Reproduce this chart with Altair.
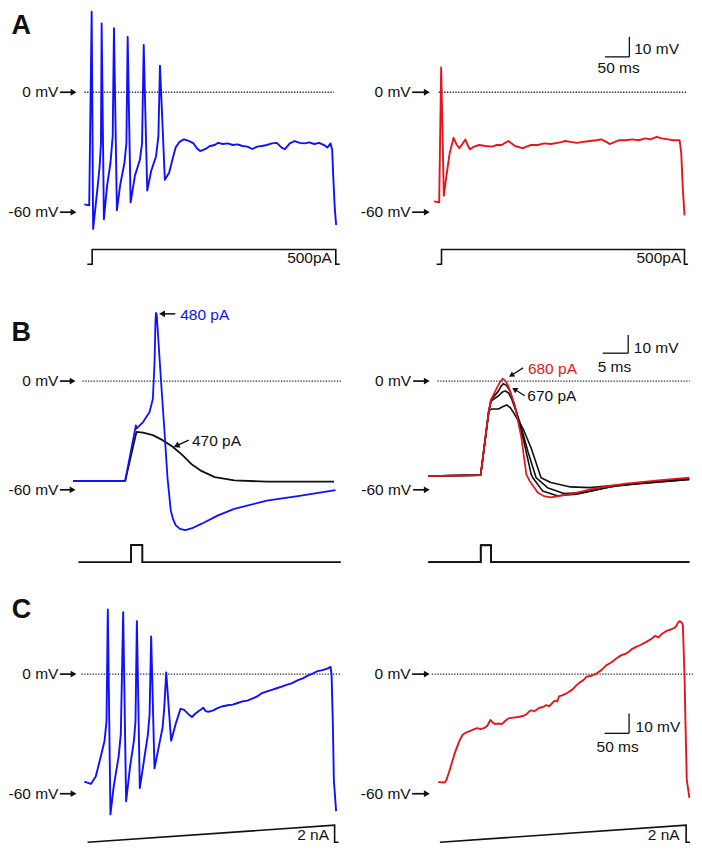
import altair as alt
import pandas as pd

FONT = "Liberation Sans"
BLUE = "#1010ff"
RED = "#e3161c"
BLACK = "#111111"

# ---------------- Row A : 500 pA current step (time ms, Vm mV)
A_BLUE_T = [-16, -6, -1, 2, 10.6, 15.4, 18, 19.4, 24, 30.6, 37.4, 42, 44.6, 50.6, 57.4, 66, 70, 72.6,
            78.6, 87.4, 97.4, 102, 105.4, 112.6, 120.6, 130.6, 135.4, 138.6, 148.6, 157.3, 164, 170.7,
            178.7, 187.3, 197.3, 207.3, 214, 220.7, 230.7, 240.7, 250.7, 257.3, 267.3, 277.3, 287.3,
            297.3, 307.3, 317.3, 327.3, 337.3, 347.3, 357.3, 367.3, 377.3, 387.3, 394, 404, 414, 424,
            434, 444, 454, 464, 474, 480.7, 487.3, 490.7, 492.7, 496, 498.7]
A_BLUE_V = [-56.1, -56.6, 40.3, -68.4, -48.7, -36.9, -25.6, 34.4, -63.5, -46.7, -35.4, -22.1, 32.0,
            -59.0, -46.2, -35.4, -25.6, 27.6, -55.1, -41.8, -33.9, -25.6, 23.6, -49.2, -39.4, -32.0,
            -22.1, 13.3, -43.8, -40.3, -33.8, -27.6, -24.8, -23.6, -24.3, -25.6, -28.0, -29.4, -28.5,
            -26.9, -26.4, -25.3, -25.9, -25.6, -26.4, -26.1, -26.9, -27.2, -28.4, -27.2, -26.9, -26.4,
            -25.6, -25.3, -27.7, -28.4, -25.6, -24.4, -25.3, -25.6, -25.1, -25.9, -25.3, -26.4, -27.7,
            -25.6, -29.0, -41.8, -58.5, -66.4]
A_RED_T = [-15.3, -4.7, -0.7, 4.7, 10, 16.7, 24.7, 31.3, 36.7, 43.3, 48.7, 53.3, 58, 66.7, 76.7, 90,
           103.3, 113.3, 123.3, 130, 136.7, 143.3, 150, 160, 166.7, 173.3, 183.3, 196.7, 210, 223.3,
           236.7, 246.7, 253.3, 263.3, 276.7, 290, 303.3, 316.7, 326.7, 336.7, 343.3, 350, 363.3,
           376.7, 390, 403.3, 416.7, 426.7, 440, 450, 463.3, 473.3, 486.7, 490, 493.3, 496.7]
A_RED_V = [-54.6, -55.1, 12.4, -51.8, -42.0, -30.5, -22.8, -26.4, -28.0, -25.6, -23.6, -26.4, -28.5,
           -27.2, -26.4, -26.9, -27.2, -26.4, -26.4, -25.3, -24.4, -25.6, -26.9, -27.6, -28.0, -27.2,
           -26.4, -26.4, -25.6, -25.9, -25.3, -24.8, -24.4, -24.8, -25.3, -24.8, -24.4, -24.0, -23.6,
           -24.8, -25.9, -25.3, -24.0, -24.0, -23.6, -24.0, -23.1, -23.6, -22.3, -23.1, -23.6, -24.0,
           -24.0, -30.5, -48.6, -61.6]
A_STIM_L_T = [-10, 0, 0, 498, 498, 506]
A_STIM_R_T = [-10, 0, 0, 496.6, 496.6, 504]
A_STIM_I = [0, 0, 500, 500, 0, 0]
A_STIM_LABEL = "500pA"

# ---------------- Row B : brief current pulses (time ms, Vm mV)
B_BLACK_T = [-11.4, -1.15, 1.08, 2.37, 4.29, 6.21, 8.13, 10.06, 11.98, 13.9, 16.46, 20.3, 26.7, 39.9]
B_BLACK_V = [-55.1, -55.1, -28.0, -28.4, -29.8, -32.6, -36.1, -40.7, -46.1, -49.7, -53.0, -54.8, -55.5, -55.5]
B_BLUE_T = [-11.4, -1.15, 0.96, 1.08, 2.37, 3.65, 4.29, 4.62, 4.81, 4.92, 5.05, 5.25, 5.88, 6.54, 7.17,
            7.81, 8.3, 8.77, 9.6, 10.69, 12.0, 13.9, 17.1, 20.3, 26.7, 33.1, 40.2]
B_BLUE_V = [-55.1, -55.1, -24.4, -26.2, -22.6, -17.1, -9.9, 10.0, 33.5, 37.7, 36.5, 28.1, 0.9, -26.2,
            -53.3, -71.4, -76.5, -79.5, -81.6, -82.3, -81.2, -78.7, -74.1, -70.5, -66.0, -63.3, -60.2]
B_L_PULSE_T = [-10.3, 0, 0, 2.23, 2.23, 41.2]
B_L_AMPS = [470, 480]

B_R680_T = [-10.25, 0, 1.6, 2.0, 3.21, 3.8, 4.29, 4.8, 5.44, 6.73, 8.02, 8.98, 9.62, 11.21, 12.4,
            13.79, 17.63, 22.75, 28.52, 34.94, 41.0]
B_R680_V = [-52.4, -51.9, -16.6, -10.5, -3.6, -0.6, 1.3, 0.4, -2.7, -13.6, -31.6, -51.5, -55.1, -61.5,
            -63.5, -64.2, -62.4, -59.1, -56.6, -54.8, -53.3]
B_K670_T = [-10.25, 0, 1.6, 2.0, 3.52, 4.0, 4.48, 5.1, 5.77, 7.06, 8.65, 9.94, 10.25, 12.17, 15.06,
            18.9, 25.33, 34.94, 41.0]
B_K670_V = [-52.4, -51.9, -16.6, -10.5, -5.4, -2.9, -1.4, -2.5, -5.4, -17.1, -35.3, -51.5, -53.3, -60.6,
            -63.3, -62.4, -58.4, -55.1, -53.9]
B_K660_T = [-10.25, 0, 1.6, 2.1, 3.52, 4.2, 4.81, 5.5, 6.1, 7.69, 9.29, 10.9, 13.13, 16.35, 20.19,
            26.6, 41.0]
B_K660_V = [-52.4, -51.9, -16.6, -10.9, -8.1, -6.2, -5.4, -6.6, -9.9, -22.6, -38.8, -53.3, -58.8,
            -62.0, -61.5, -57.8, -54.3]
B_K650_T = [-10.25, 0, 1.6, 2.12, 3.52, 4.4, 5.13, 5.8, 6.4, 8.33, 9.94, 11.87, 13.79, 17.63, 21.5,
            28.5, 41.0]
B_K650_V = [-52.4, -51.9, -16.6, -15.4, -15.4, -14.0, -13.2, -14.6, -17.1, -26.2, -37.1, -53.3, -56.0,
            -58.4, -58.8, -57.0, -54.3]
B_R_PULSE_T = [-10.25, 0, 0, 2.06, 2.06, 41.0]
B_R_AMPS = [650, 660, 670, 680]
PULSE_SHAPE = [0, 0, 1, 1, 0, 0]

# ---------------- Row C : 2 nA ramp (time ms, Vm mV)
C_BLUE_T = [-6.6, 6.8, 16.8, 26.8, 34.8, 38.8, 41.4, 46.8, 53.4, 63.4, 68, 72.8, 78.8, 86.8, 94.8, 98,
            100.8, 106.8, 115.4, 123.4, 126.8, 130, 136.8, 145.4, 153.4, 156.8, 160.8, 170.8, 180, 190,
            196.8, 206.7, 213.4, 220.1, 226.7, 236.7, 241.4, 246.7, 256.7, 266.7, 276.7, 286.7, 296.7,
            306.7, 316.7, 326.7, 336.7, 346.7, 356.7, 366.7, 376.7, 386.7, 396.7, 406.7, 416.7, 430.1,
            440.1, 450.1, 460.1, 470.1, 480.1, 490.1, 496.7, 498.8, 501.4, 503.4, 508]
C_BLUE_V = [-53.9, -55.1, -51.4, -41.6, -33.4, -23.5, 32.4, -70.4, -56.4, -41.6, -30.0, 31.1, -63.8,
            -46.5, -33.4, -23.5, 26.6, -57.2, -43.2, -30.1, -20.2, 18.9, -47.3, -36.6, -26.8, -16.9,
            0.8, -33.4, -25.1, -17.4, -17.8, -20.2, -21.5, -19.9, -18.6, -16.9, -18.6, -18.9, -18.2,
            -16.9, -16.1, -15.6, -15.3, -14.5, -13.7, -13.3, -12.3, -11.2, -9.5, -8.7, -7.9, -7.1,
            -6.3, -5.4, -4.6, -3.0, -2.1, -0.8, 0.3, 1.5, 2.0, 2.8, 3.6, -0.5, -25.1, -53.1, -68.7]
C_RED_T = [-3.3, 10.1, 13.4, 20.1, 30.1, 40.1, 46.7, 53.4, 63.4, 70.1, 76.7, 83.4, 90.1, 96.7, 103.4,
           108.1, 113.4, 120.1, 126.7, 133.4, 140.1, 150.1, 160.1, 170.1, 176.7, 183.4, 186.7, 193.4,
           203.4, 210.1, 216.7, 223.4, 230.1, 234.7, 240.1, 243.4, 250.1, 260.1, 270.1, 280.1, 286.7,
           293.4, 300.1, 310.1, 320.1, 330.1, 340.1, 350.1, 360.1, 370.1, 380.1, 386.7, 393.4, 400.1,
           410.1, 420.1, 426.7, 433.4, 440.1, 446.7, 453.4, 463.4, 473.4, 480.1, 483.4, 486.7, 490.1,
           494.7, 496.7, 500.1, 502.1, 504.7, 510.1]
C_RED_V = [-54.2, -54.4, -53.1, -48.2, -39.9, -33.4, -30.4, -29.3, -28.4, -27.6, -27.1, -27.6, -27.1,
           -26.0, -23.0, -24.3, -25.1, -24.8, -25.1, -23.5, -22.2, -21.8, -21.5, -21.0, -20.2, -18.6,
           -18.2, -18.6, -16.9, -16.6, -15.6, -16.1, -14.5, -13.3, -13.7, -11.2, -10.7, -9.5, -7.9,
           -5.4, -4.1, -3.0, -1.3, -0.8, 0.3, 2.0, 4.4, 5.8, 7.7, 9.4, 10.2, 11.3, 12.7, 13.5, 14.6,
           15.9, 16.8, 17.9, 19.2, 18.4, 20.1, 21.7, 22.5, 23.3, 24.2, 25.8, 26.6, 25.8, 24.5, -0.5,
           -25.1, -53.1, -62.1]
C_RAMP_L_T = [0, 505, 505, 513]
C_RAMP_R_T = [0, 503.4, 503.4, 511.4]
C_RAMP_NA = [0, 2, 0, 0]
C_STIM_LABEL = "2 nA"

# ---------------- panel geometry (domains of each panel's scales)
XD = {"AL": [-176, 526], "AR": [-188, 514], "BL": [-24.56, 42.94], "BR": [-25.77, 41.73],
      "CL": [-166.6, 535.4], "CR": [-184.6, 517.4]}
YD = {"A": [-89.5, 43.3], "B": [-104.9, 60.6], "C": [-85.3, 51.3]}
SD = {"AL": [-233, 8767], "AR": [-233, 8767], "BL": [-244, 8022], "BR": [-346, 11372],
      "CL": [-0.23, 31.8], "CR": [-0.23, 31.8]}
KX = 686 / 700
KY = 836 / 849
W = round(351 * KX, 2)
H = {"A": round(270 * KY, 2), "B": round(305 * KY, 2), "C": round(277 * KY, 2)}
PAD = {"left": round(-2 * KX, 2), "top": round(-3 * KY, 2), "right": 0, "bottom": 0}
FS = 15.5


def sc(d):
    return alt.Scale(domain=d, nice=False, zero=False)


def line(t, v, color, xd, yd, w=1.9):
    df = pd.DataFrame({"t": t, "v": v, "i": list(range(len(t)))})
    return alt.Chart(df).mark_line(color=color, strokeWidth=w, strokeJoin="round").encode(
        x=alt.X("t:Q", scale=sc(xd), axis=None),
        y=alt.Y("v:Q", scale=sc(yd), axis=None),
        order="i:Q")


def segs(rows, xd, yd, color=BLACK, w=1.5, dash=None):
    df = pd.DataFrame(rows, columns=["t", "t2", "v", "v2"])
    kw = dict(color=color, strokeWidth=w)
    if dash:
        kw["strokeDash"] = dash
    return alt.Chart(df).mark_rule(**kw).encode(
        x=alt.X("t:Q", scale=sc(xd), axis=None), x2="t2:Q",
        y=alt.Y("v:Q", scale=sc(yd), axis=None), y2="v2:Q")


def txt(t, v, s, xd, yd, align="left", baseline="middle", size=FS, color=BLACK, weight="normal"):
    df = pd.DataFrame({"t": [t], "v": [v], "s": [s]})
    return alt.Chart(df).mark_text(align=align, baseline=baseline, fontSize=size, font=FONT,
                                   color=color, fontWeight=weight).encode(
        x=alt.X("t:Q", scale=sc(xd), axis=None),
        y=alt.Y("v:Q", scale=sc(yd), axis=None),
        text="s:N")


def head(pts, xd, yd, shape="triangle-right", angle=0, color=BLACK, size=46):
    df = pd.DataFrame(pts, columns=["t", "v"])
    return alt.Chart(df).mark_point(shape=shape, angle=angle, filled=True, color=color, size=size,
                                    opacity=1, strokeWidth=0).encode(
        x=alt.X("t:Q", scale=sc(xd), axis=None),
        y=alt.Y("v:Q", scale=sc(yd), axis=None))


def mv_labels(xd, yd, t_text, t_a0, t_a1, t_head, dot0, dot1):
    return [
        segs([[dot0, dot1, 0, 0]], xd, yd, color="#333333", w=1.3, dash=[1.4, 1.4]),
        txt(t_text, 0, "0 mV", xd, yd, align="right"),
        txt(t_text, -60, "-60 mV", xd, yd, align="right"),
        segs([[t_a0, t_a1, 0, 0], [t_a0, t_a1, -60, -60]], xd, yd, w=1.7),
        head([[t_head, 0], [t_head, -60]], xd, yd),
    ]


def scalebar(xd, yd, t0, t1, v0, v1, tlabel, t_mv, v_mv, t_ms, v_ms):
    return [
        segs([[t0, t1, v0, v0], [t1, t1, v0, v1]], xd, yd, w=1.3),
        txt(t_mv, v_mv, "10 mV", xd, yd, align="left"),
        txt(t_ms, v_ms, tlabel, xd, yd, align="center"),
    ]


def stim_line(t, i, xd, sd, w=1.6):
    df = pd.DataFrame({"t": t, "s": i, "i": list(range(len(t)))})
    return alt.Chart(df).mark_line(color=BLACK, strokeWidth=w).encode(
        x=alt.X("t:Q", scale=sc(xd), axis=None),
        y=alt.Y("s:Q", scale=sc(sd), axis=None),
        order="i:Q")


def stim_text(t, s, label, xd, sd):
    df = pd.DataFrame({"t": [t], "s": [s], "l": [label]})
    return alt.Chart(df).mark_text(align="right", baseline="alphabetic", fontSize=FS, font=FONT,
                                   color=BLACK).encode(
        x=alt.X("t:Q", scale=sc(xd), axis=None),
        y=alt.Y("s:Q", scale=sc(sd), axis=None),
        text="l:N")


def panel(volt, stim, h):
    return alt.layer(alt.layer(*volt), alt.layer(*stim)).resolve_scale(y="independent").properties(
        width=W, height=h)


# ---- A left
xd, yd, sd = XD["AL"], YD["A"], SD["AL"]
AL = panel(
    [txt(-165, 33.3, "A", xd, yd, size=27, weight="bold")]
    + mv_labels(xd, yd, -69, -66, -40, -38, -16, 494)
    + [line(A_BLUE_T, A_BLUE_V, BLUE, xd, yd)],
    [stim_line(A_STIM_L_T, A_STIM_I, xd, sd), stim_text(490, 45, A_STIM_LABEL, xd, sd)],
    H["A"])

# ---- A right
xd, yd, sd = XD["AR"], YD["A"], SD["AR"]
AR = panel(
    mv_labels(xd, yd, -63, -60, -32, -30, -6, 500)
    + scalebar(xd, yd, 334, 384, 17.7, 27.7, "50 ms", 394, 21.6, 362, 12.3)
    + [line(A_RED_T, A_RED_V, RED, xd, yd)],
    [stim_line(A_STIM_R_T, A_STIM_I, xd, sd), stim_text(490, 45, A_STIM_LABEL, xd, sd)],
    H["A"])

# ---- B left
xd, yd, sd = XD["BL"], YD["B"], SD["BL"]
BL = panel(
    [txt(-23.5, 26.4, "B", xd, yd, size=27, weight="bold")]
    + mv_labels(xd, yd, -14.27, -13.98, -11.67, -11.48, -9.56, 41.4)
    + [line(B_BLACK_T, B_BLACK_V, BLACK, xd, yd, w=1.8),
       line(B_BLUE_T, B_BLUE_V, BLUE, xd, yd, w=1.8),
       segs([[6.1, 8.7, 37.1, 37.1], [9.1, 11.35, -35.5, -32.6]], xd, yd, w=1.5),
       head([[6.1, 37.1]], xd, yd, shape="triangle-left"),
       head([[9.1, -35.5]], xd, yd, shape="triangle", angle=245),
       txt(9.67, 36.2, "480 pA", xd, yd, color=BLUE),
       txt(11.98, -33.3, "470 pA", xd, yd)],
    [stim_line(B_L_PULSE_T, [a * p for p in PULSE_SHAPE], xd, sd) for a in B_L_AMPS],
    H["B"])

# ---- B right
xd, yd, sd = XD["BR"], YD["B"], SD["BR"]
BR = panel(
    mv_labels(xd, yd, -13.66, -13.27, -10.77, -10.58, -8.5, 41.1)
    + scalebar(xd, yd, 24, 29, 15.4, 25.4, "5 ms", 30.1, 18.3, 26.3, 7.8)
    + [line(B_K650_T, B_K650_V, BLACK, xd, yd, w=1.6),
       line(B_K660_T, B_K660_V, BLACK, xd, yd, w=1.6),
       line(B_K670_T, B_K670_V, BLACK, xd, yd, w=1.6),
       line(B_R680_T, B_R680_V, RED, xd, yd, w=1.7),
       segs([[6.17, 8.33, 3.4, 7.3], [6.81, 8.65, -4.8, -8.1]], xd, yd, w=1.3),
       head([[6.17, 3.4]], xd, yd, shape="triangle", angle=238, size=38),
       head([[6.81, -4.8]], xd, yd, shape="triangle", angle=302, size=38),
       txt(9.29, 6.7, "680 pA", xd, yd, color=RED),
       txt(9.17, -8.1, "670 pA", xd, yd)],
    [stim_line(B_R_PULSE_T, [a * p for p in PULSE_SHAPE], xd, sd, w=1.4) for a in B_R_AMPS],
    H["B"])

# ---- C left
xd, yd, sd = XD["CL"], YD["C"], SD["CL"]
CL = panel(
    [txt(-155, 32.1, "C", xd, yd, size=27, weight="bold")]
    + mv_labels(xd, yd, -59.6, -56.6, -30.6, -28.6, -12.6, 517.4)
    + [line(C_BLUE_T, C_BLUE_V, BLUE, xd, yd)],
    [stim_line(C_RAMP_L_T, C_RAMP_NA, xd, sd), stim_text(493.4, 0.23, C_STIM_LABEL, xd, sd)],
    H["C"])

# ---- C right
xd, yd, sd = XD["CR"], YD["C"], SD["CR"]
CR = panel(
    mv_labels(xd, yd, -59.6, -56.6, -28.6, -26.6, -16.6, 517.4)
    + scalebar(xd, yd, 336.8, 386.8, -29.7, -19.7, "50 ms", 400, -26.5, 363.4, -36.6)
    + [line(C_RED_T, C_RED_V, RED, xd, yd)],
    [stim_line(C_RAMP_R_T, C_RAMP_NA, xd, sd), stim_text(490, 0.23, C_STIM_LABEL, xd, sd)],
    H["C"])

chart = alt.vconcat(
    alt.hconcat(AL, AR, spacing=0),
    alt.hconcat(BL, BR, spacing=0),
    alt.hconcat(CL, CR, spacing=0),
    spacing=0,
).properties(
    padding=PAD,
    background="white",
).configure_view(stroke=None)

chart.save("out.html", embed_options={"renderer": "svg", "actions": False})
